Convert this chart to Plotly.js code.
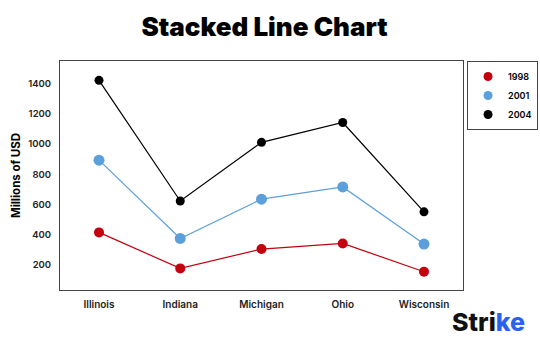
<!DOCTYPE html>
<html><head><meta charset="utf-8">
<script src="https://cdn.plot.ly/plotly-3.0.1.min.js"></script>
<style>html,body{margin:0;padding:0;background:#fff}#c{width:540px;height:358px}</style>
</head><body><div id="c"></div>
<script>
const states = ["Illinois","Indiana","Michigan","Ohio","Wisconsin"];
const y1998 = [416, 178, 306, 343, 156];
const y2001 = [894, 376, 636, 717, 339];
const y2004 = [1422, 624, 1012, 1143, 552];
const yTicks = [200, 400, 600, 800, 1000, 1200, 1400];
const years = ['1998', '2001', '2004'];
const colors = ['#c4000f', '#5b9fdc', '#000000'];
const sizes = [10, 11, 9];
const series = [y1998, y2001, y2004];

const data = [];
series.forEach((y, i) => {
  data.push({x: states, y: y, name: years[i], type: 'scatter', mode: 'lines+markers',
    showlegend: false, line: {color: colors[i], width: 1.2}, marker: {color: colors[i], size: sizes[i]}});
});
series.forEach((y, i) => {
  data.push({x: [null], y: [null], name: years[i], type: 'scatter', mode: 'markers',
    showlegend: true, marker: {color: colors[i], size: 9}});
});
const f = "Inter, 'DejaVu Sans', sans-serif";
const layout = {
  width: 540, height: 358,
  margin: {l: 60, r: 77, t: 61, b: 68, autoexpand: false},
  paper_bgcolor: '#ffffff', plot_bgcolor: '#ffffff',
  title: {text: 'Stacked Line Chart', x: 0.49, xanchor: 'center', y: 0.925, yanchor: 'middle',
    font: {family: f, size: 26, color: '#000', weight: 900}},
  xaxis: {range: [-0.48, 4.48], showgrid: false, zeroline: false, showline: true, mirror: true,
    linecolor: '#444', linewidth: 1, ticks: '', ticklen: 0, ticklabelstandoff: 5,
    tickfont: {family: f, size: 10, color: '#222', weight: 600}},
  yaxis: {range: [35, 1550], tickvals: yTicks, showgrid: false, zeroline: false, showline: true,
    mirror: true, linecolor: '#444', linewidth: 1, ticks: '', ticklen: 0, ticklabelstandoff: 6,
    tickfont: {family: f, size: 9.5, color: '#222', weight: 600},
    title: {text: 'Millions of USD', standoff: 5, font: {family: f, size: 11.5, color: '#000', weight: 700}}},
  legend: {x: 1.01, xanchor: 'left', y: 1.0, yanchor: 'top', bordercolor: '#444', borderwidth: 1,
    bgcolor: '#fff', font: {family: f, size: 9, color: '#000', weight: 600},
    itemwidth: 30, tracegroupgap: 0},
  showlegend: true,
  annotations: [{xref: 'paper', yref: 'paper', x: 1.16, y: -0.065, xanchor: 'right', yanchor: 'top',
    showarrow: false, text: "Stri<span style='color:#2a62f0'>ke</span>",
    font: {family: f, size: 25, color: '#111', weight: 800}}]
};
Plotly.newPlot('c', data, layout, {displayModeBar: false, staticPlot: true});
</script></body></html>
